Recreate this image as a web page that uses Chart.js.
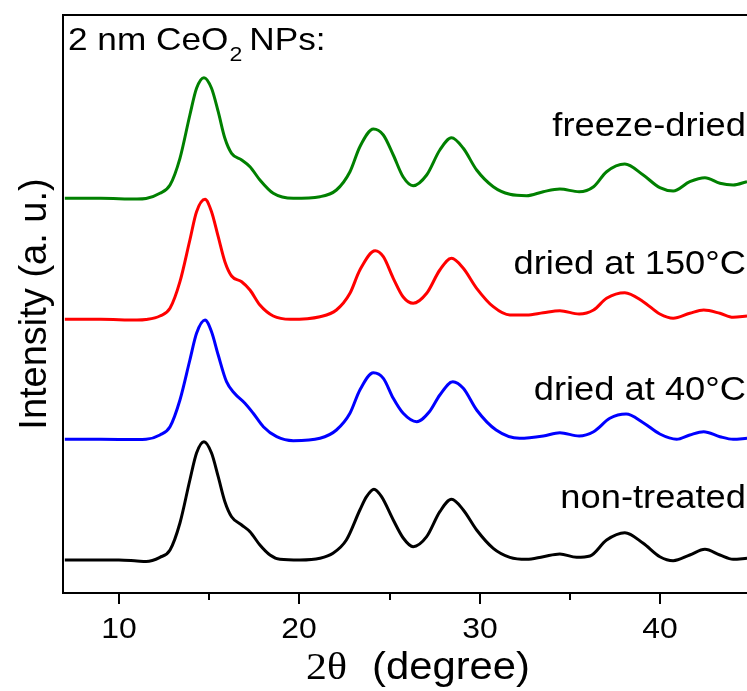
<!DOCTYPE html>
<html>
<head>
<meta charset="utf-8">
<script src="https://cdn.jsdelivr.net/npm/chart.js@4.4.0/dist/chart.umd.min.js"></script>
<style>
  body { margin: 0; background: #fff; }
  #wrap { width: 747px; height: 691px; }
</style>
</head>
<body>
<div id="wrap"><canvas id="xrd"></canvas></div>
<script>
// 2theta positions (degree) and stacked intensities (a.u.)
const xGreen = [7, 9, 11, 11.5, 12.27, 12.83, 13.38, 13.93, 14.3, 14.71, 15.13, 15.5, 15.87, 16.24, 16.8, 17.26, 17.81, 18.55, 19.66, 21.14, 22.05, 22.8, 23.35, 24.1, 24.65, 25.2, 25.75, 26.3, 27.05, 27.78, 28.43, 29.08, 29.82, 30.74, 31.66, 32.59, 33.51, 34.43, 35.5, 36.3, 37.02, 38.03, 39.05, 39.97, 40.71, 41.63, 42.47, 43.3, 44.03, 44.8];
const yGreen = [394.7, 394.7, 394, 394.5, 399.7, 408, 434.7, 478, 504.7, 515.3, 504.7, 481.3, 454.7, 439.7, 433, 426.3, 413, 399.7, 394.7, 396.3, 403, 421.3, 446.3, 464, 458, 438, 416, 407.3, 418, 443, 455.3, 444.7, 423, 406.3, 398.7, 397.3, 401.3, 404, 401.3, 406.3, 421.3, 429, 418, 405.3, 402, 411.3, 415.3, 409.7, 408, 411.3];

const xRed = [7, 9, 11, 11.5, 12.27, 12.83, 13.38, 13.93, 14.3, 14.77, 15.13, 15.5, 15.87, 16.24, 16.8, 17.26, 17.81, 18.55, 19.5, 21.14, 22.05, 22.8, 23.35, 24.2, 24.65, 25.2, 25.75, 26.3, 27.05, 27.78, 28.43, 29.08, 29.82, 30.74, 31.66, 32.59, 33.51, 34.43, 35.5, 36.3, 37.02, 38.03, 39.05, 39.97, 40.71, 41.63, 42.4, 43.3, 44.03, 44.8];
const yRed = [273.7, 273.7, 273, 273.5, 277, 284.7, 311.3, 353, 381.3, 393.7, 381.3, 356.3, 331.3, 317, 311.3, 303, 288, 277, 273.7, 276.3, 283, 299.7, 323, 342.3, 336.3, 314.7, 296, 289.7, 299.7, 323, 334.7, 324.7, 304.7, 286.3, 278, 278, 280.3, 282.3, 279, 283, 294.7, 300.3, 291.3, 279, 274.7, 279.7, 283, 279.7, 275.7, 277];

const xBlue = [7, 9, 11, 11.5, 12.27, 12.83, 13.38, 13.93, 14.3, 14.77, 15.13, 15.5, 15.96, 16.4, 16.98, 17.44, 18, 18.74, 19.66, 21.14, 22.05, 22.8, 23.35, 24.1, 24.65, 25.2, 25.75, 26.5, 27.2, 27.78, 28.5, 29.08, 29.82, 30.9, 32.2, 33.51, 34.43, 35.5, 36.3, 37.2, 38.1, 39.05, 39.97, 40.9, 41.63, 42.4, 43.3, 44.03, 44.8];
const yBlue = [153.7, 153.7, 153.5, 153.7, 158, 166.3, 193, 233, 259.7, 273, 261.3, 238, 211.3, 199.7, 189.7, 179.7, 166.3, 156.3, 152.3, 154.7, 163, 179.7, 203, 220.3, 214.7, 194.7, 179.7, 171.3, 181.3, 198, 211.3, 204.7, 183, 163, 154.7, 157, 160.3, 157, 161.3, 174.7, 179, 170.3, 159, 153.7, 158, 161.3, 156.3, 153.7, 154.7];

const xBlack = [7, 9, 10, 11, 11.5, 12.27, 12.83, 13.38, 13.93, 14.3, 14.71, 15.13, 15.5, 15.87, 16.24, 16.8, 17.26, 17.81, 18.37, 18.92, 20.03, 21.14, 21.86, 22.6, 23.35, 23.72, 24.13, 24.55, 25.2, 25.75, 26.3, 27.05, 27.78, 28.43, 29.08, 29.82, 30.74, 31.66, 32.59, 33.51, 34.43, 35.36, 36.1, 37.02, 38.03, 39.05, 39.97, 40.71, 41.63, 42.47, 43.3, 44.03, 44.8];
const yBlack = [33, 33, 33, 32, 31.5, 35.7, 43, 70, 113, 140, 151.3, 140, 116.3, 91.3, 76.3, 68, 61.3, 48, 38, 33.7, 33, 34.7, 39.7, 53, 83, 96.3, 103.7, 96.3, 73, 55, 46.3, 56.3, 81.3, 93.7, 83, 63, 44.7, 35.7, 33.7, 36.3, 39, 35.7, 37, 53, 60.3, 49.7, 36.3, 32.3, 38, 43.7, 38, 33.7, 34.7];

const majorTicks = [10, 20, 30, 40];
const minorTicks = [15, 25, 35];
const seriesNames = ['freeze-dried', 'dried at 150\u00B0C', 'dried at 40\u00B0C', 'non-treated'];
const seriesColors = ['#008000', '#ff0000', '#0000ff', '#000000'];

function pts(xs, ys) {
  return xs.map((x, i) => ({ x: x, y: ys[i] }));
}

const SANS = '"Liberation Sans", Arial, sans-serif';
const SERIF = '"Liberation Serif", "Times New Roman", serif';
const SX = 1.1; // the original lettering is a bit wider than Arial

// draws text slightly stretched sideways, returns its drawn width
function txt(ctx, s, x, y, font, align) {
  ctx.save();
  ctx.font = font;
  ctx.textAlign = align || 'left';
  ctx.translate(x, y);
  ctx.scale(SX, 1);
  ctx.fillText(s, 0, 0);
  const w = ctx.measureText(s).width * SX;
  ctx.restore();
  return w;
}

// frame, ticks and text drawn on top of the chart
const decor = {
  id: 'decor',
  afterDraw(chart) {
    const ctx = chart.ctx;
    const a = chart.chartArea;
    const xs = chart.scales.x;
    ctx.save();
    ctx.strokeStyle = '#000';
    ctx.fillStyle = '#000';
    ctx.lineWidth = 2;
    ctx.textBaseline = 'alphabetic';
    ctx.beginPath();
    ctx.moveTo(a.left, a.top);
    ctx.lineTo(a.right, a.top);
    ctx.stroke();

    majorTicks.forEach(v => {
      const px = Math.round(xs.getPixelForValue(v));
      ctx.beginPath();
      ctx.moveTo(px, a.bottom);
      ctx.lineTo(px, a.bottom + 11);
      ctx.stroke();
      txt(ctx, String(v), px, a.bottom + 45, '29px ' + SANS, 'center');
    });
    minorTicks.forEach(v => {
      const px = Math.round(xs.getPixelForValue(v));
      ctx.beginPath();
      ctx.moveTo(px, a.bottom);
      ctx.lineTo(px, a.bottom + 7);
      ctx.stroke();
    });

    // header
    let x = 68;
    x += txt(ctx, '2 nm CeO', x, 50, '32px ' + SANS);
    x += txt(ctx, '2', x + 1, 61, '21px ' + SANS) + 8;
    txt(ctx, 'NPs:', x, 50, '32px ' + SANS);

    // curve labels
    const labelY = [136, 274, 400, 508];
    seriesNames.forEach((t, i) => txt(ctx, t, 746, labelY[i], '33px ' + SANS, 'right'));

    // x title: 2θ (degree)
    txt(ctx, '2\u03B8', 306, 679, '38px ' + SERIF);
    txt(ctx, '(degree)', 372, 679, '38px ' + SANS);

    // y title
    ctx.translate(46, 304);
    ctx.rotate(-Math.PI / 2);
    ctx.textAlign = 'center';
    ctx.font = '38px ' + SANS;
    ctx.fillText('Intensity (a. u.)', 0, 0);
    ctx.restore();
  }
};

new Chart(document.getElementById('xrd'), {
  type: 'line',
  data: {
    datasets: [
      { label: seriesNames[0], data: pts(xGreen, yGreen), borderColor: seriesColors[0] },
      { label: seriesNames[1], data: pts(xRed, yRed), borderColor: seriesColors[1] },
      { label: seriesNames[2], data: pts(xBlue, yBlue), borderColor: seriesColors[2] },
      { label: seriesNames[3], data: pts(xBlack, yBlack), borderColor: seriesColors[3] }
    ]
  },
  options: {
    responsive: true,
    maintainAspectRatio: false,
    animation: false,
    layout: { padding: { top: 15, left: 0, right: 0, bottom: 0 } },
    elements: {
      line: { borderWidth: 3, cubicInterpolationMode: 'monotone', fill: false },
      point: { radius: 0 }
    },
    plugins: {
      legend: { display: false },
      tooltip: { enabled: false }
    },
    scales: {
      x: {
        type: 'linear',
        min: 6.9,
        max: 44.8,
        afterBuildTicks: s => { s.ticks = majorTicks.map(v => ({ value: v })); },
        afterFit: s => { s.height = 98; },
        grid: { display: false },
        border: { display: true, color: '#000', width: 2 },
        ticks: { display: false }
      },
      y: {
        min: 0,
        max: 578,
        afterFit: s => { s.width = 63; },
        grid: { display: false },
        border: { display: true, color: '#000', width: 2 },
        ticks: { display: false }
      }
    }
  },
  plugins: [decor]
});
</script>
</body>
</html>
